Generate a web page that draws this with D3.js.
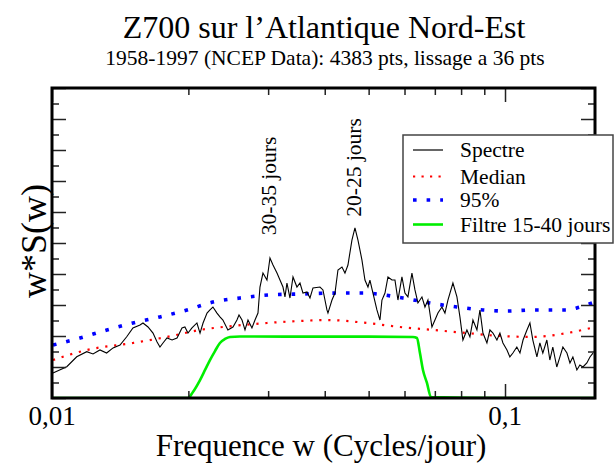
<!DOCTYPE html>
<html>
<head>
<meta charset="utf-8">
<script src="https://cdn.jsdelivr.net/npm/d3@7"></script>
<style>
  body { margin: 0; background: #fff; }
  text { font-family: "Liberation Serif", "Times New Roman", serif; fill: #000; }
</style>
</head>
<body>
<div id="chart"></div>
<script>
const WIDTH = 615;
const HEIGHT = 466;
const PLOT = { LEFT: 52, RIGHT: 595, TOP: 88, BOTTOM: 398 };

// spectre (frequence en cycles/jour -> w*S(w))
const spectreFreq = [0.01005, 0.01078, 0.01134, 0.01193, 0.01232, 0.01276, 0.01320, 0.01364, 0.01413, 0.01462,
  0.01509, 0.01564, 0.01588, 0.01629, 0.01671, 0.01706, 0.01731, 0.01758, 0.01794, 0.01841,
  0.01888, 0.01936, 0.01965, 0.01996, 0.02037, 0.02089, 0.02122, 0.02155, 0.02199, 0.02232,
  0.02266, 0.02313, 0.02348, 0.02384, 0.02445, 0.02509, 0.02560, 0.02587, 0.02627, 0.02667,
  0.02708, 0.02763, 0.02806, 0.02849, 0.02878, 0.02922, 0.02982, 0.03028, 0.03075, 0.03138,
  0.03186, 0.03235, 0.03268, 0.03301, 0.03352, 0.03404, 0.03473, 0.03527, 0.03581, 0.03655,
  0.03711, 0.03768, 0.03904, 0.03964, 0.04045, 0.04066, 0.04150, 0.04214, 0.04278, 0.04366,
  0.04433, 0.04501, 0.04593, 0.04664, 0.04736, 0.04833, 0.04907, 0.04983, 0.05033, 0.05111,
  0.05215, 0.05296, 0.05350, 0.05433, 0.05516, 0.05629, 0.05716, 0.05803, 0.05922, 0.06013,
  0.06105, 0.06231, 0.06327, 0.06424, 0.06556, 0.06657, 0.06759, 0.06898, 0.07004, 0.07111,
  0.07257, 0.07369, 0.07482, 0.07674, 0.07832, 0.07952, 0.08074, 0.08240, 0.08367, 0.08496,
  0.08670, 0.08803, 0.08939, 0.09122, 0.09262, 0.09405, 0.09597, 0.09745, 0.09895, 0.1010,
  0.1025, 0.1041, 0.1062, 0.1079, 0.1096, 0.1118, 0.1135, 0.1152, 0.1176, 0.1194,
  0.1212, 0.1237, 0.1256, 0.1275, 0.1301, 0.1322, 0.1342, 0.1370, 0.1391, 0.1412,
  0.1441, 0.1463, 0.1486, 0.1516, 0.1540, 0.1564];
const spectreVal = [1.61, 2.02, 2.66, 2.99, 2.84, 3.10, 2.90, 3.23, 3.42, 3.95,
  4.52, 4.71, 4.84, 4.58, 4.19, 3.61, 3.29, 3.55, 3.87, 3.74,
  3.87, 4.52, 4.58, 4.19, 4.52, 4.84, 4.19, 4.84, 5.48, 5.68,
  5.87, 5.48, 5.23, 5.03, 4.39, 4.58, 5.03, 5.35, 5.03, 4.39,
  5.03, 4.52, 5.03, 5.48, 7.16, 8.06, 7.61, 9.03, 8.58, 8.06,
  7.61, 7.16, 6.52, 7.42, 6.45, 7.81, 7.16, 7.42, 6.77, 6.84,
  6.45, 7.10, 7.16, 6.97, 5.68, 5.48, 6.32, 6.77, 8.26, 8.45,
  8.06, 8.58, 10.19, 10.97, 10.19, 8.90, 7.61, 7.16, 7.61, 6.77,
  5.68, 5.03, 6.32, 6.77, 7.81, 7.61, 7.61, 6.32, 7.81, 6.77,
  6.52, 8.06, 6.97, 6.13, 6.52, 5.87, 6.32, 4.58, 5.03, 5.48,
  5.87, 5.48, 6.32, 7.42, 6.52, 5.23, 3.74, 4.39, 3.94, 5.03,
  4.39, 5.68, 4.19, 3.55, 4.39, 4.19, 3.74, 4.19, 3.55, 3.10,
  2.65, 2.90, 3.29, 2.90, 3.74, 4.39, 4.84, 3.74, 2.65, 3.55,
  2.90, 3.74, 2.45, 3.29, 2.00, 2.65, 3.29, 2.90, 2.26, 2.65,
  1.81, 2.13, 2.00, 2.26, 2.65, 2.90];

// seuil median
const medianFreq = [0.01005, 0.01195, 0.01509, 0.01794, 0.02122, 0.02509, 0.02982, 0.03527, 0.04045,
  0.04957, 0.05862, 0.06933, 0.08240, 0.09745, 0.1152, 0.1370, 0.1579];
const medianVal = [2.45, 3.10, 3.55, 3.94, 4.39, 4.65, 4.84, 4.97, 5.03,
  4.84, 4.58, 4.39, 4.19, 4.00, 3.94, 4.19, 4.58];

// seuil 95%
const p95Freq = [0.01005, 0.01153, 0.01322, 0.01509, 0.01731, 0.01986, 0.02266, 0.02600, 0.03028, 0.03527,
  0.04257, 0.04858, 0.05952, 0.06828, 0.07832, 0.08939, 0.1010, 0.1152, 0.1370, 0.1463, 0.1579];
const p95Val = [3.42, 3.87, 4.39, 4.84, 5.23, 5.68, 6.19, 6.45, 6.65, 6.71,
  6.77, 6.77, 6.45, 6.13, 5.87, 5.68, 5.61, 5.68, 5.68, 5.87, 6.19];

// filtre 15-40 jours
const filtreFreq = [0.01, 0.01996, 0.02047, 0.02122, 0.02177, 0.02232, 0.02290, 0.02348, 0.02409, 0.02471,
  0.02600, 0.03500, 0.05000, 0.06263, 0.06391, 0.06490, 0.06590, 0.06725, 0.06863, 0.1000, 0.158];
const filtreVal = [0, 0, 0.39, 1.16, 1.81, 2.45, 3.03, 3.55, 3.81, 3.94,
  3.97, 3.96, 3.96, 3.94, 3.87, 2.90, 1.81, 0.97, 0.06, 0, 0];

const legendLabels = ["Spectre", "Median", "95%", "Filtre 15-40 jours"];
const annotTexts = ["30-35 jours", "20-25 jours"];
const annotFreq = [0.0312, 0.0481];
const annotVal = [10.5, 11.7];

const xMajorTicks = [0.01, 0.1];
const xMajorLabels = ["0,01", "0,1"];
const xMinorTicks = [0.02, 0.03, 0.04, 0.05, 0.06, 0.07, 0.08, 0.09];
const yMajorTicks = [0, 2, 4, 6, 8, 10, 12, 14, 16, 18, 20];
const yMinorTicks = [1, 3, 5, 7, 9, 11, 13, 15, 17, 19];

const svg = d3
  .select("#chart")
  .append("svg")
  .attr("width", WIDTH)
  .attr("height", HEIGHT);

const x = d3.scaleLog().domain([0.01, 0.158]).range([PLOT.LEFT, PLOT.RIGHT]);
const y = d3.scaleLinear().domain([0, 20]).range([PLOT.BOTTOM, PLOT.TOP]);

// titres
svg.append("text")
  .attr("x", 324).attr("y", 38)
  .attr("text-anchor", "middle")
  .attr("font-size", "32px")
  .text("Z700 sur l\u2019Atlantique Nord-Est");
svg.append("text")
  .attr("x", 325).attr("y", 65)
  .attr("text-anchor", "middle")
  .attr("font-size", "21.5px")
  .text("1958-1997 (NCEP Data): 4383 pts, lissage a 36 pts");

svg.append("clipPath").attr("id", "clip")
  .append("rect")
  .attr("x", PLOT.LEFT).attr("y", PLOT.TOP)
  .attr("width", PLOT.RIGHT - PLOT.LEFT)
  .attr("height", PLOT.BOTTOM - PLOT.TOP);

const plot = svg.append("g").attr("clip-path", "url(#clip)");

const toPoints = (fs, vs) => fs.map((f, i) => [f, vs[i]]);
const line = d3.line().x((d) => x(d[0])).y((d) => y(d[1]));
const smooth = d3.line().x((d) => x(d[0])).y((d) => y(d[1])).curve(d3.curveMonotoneX);

plot.append("path")
  .attr("d", smooth(toPoints(filtreFreq, filtreVal)))
  .style("fill", "none").style("stroke", "#00ee00").style("stroke-width", 2.6);

plot.append("path")
  .attr("d", smooth(toPoints(medianFreq, medianVal)))
  .style("fill", "none").style("stroke", "#ff0000").style("stroke-width", 2.2)
  .style("stroke-dasharray", "2.2,6.8");

plot.append("path")
  .attr("d", smooth(toPoints(p95Freq, p95Val)))
  .style("fill", "none").style("stroke", "#0000ff").style("stroke-width", 3.6)
  .style("stroke-dasharray", "3.6,10");

plot.append("path")
  .attr("d", line(toPoints(spectreFreq, spectreVal)))
  .style("fill", "none").style("stroke", "#000").style("stroke-width", 1.1);

// axes (ticks vers l'interieur)
function tickAxis(axis, translate, size, values) {
  svg.append("g")
    .attr("transform", translate)
    .call(axis.tickValues(values).tickSize(size).tickFormat(""))
    .call((g) => g.select(".domain").remove())
    .call((g) => g.selectAll("line").style("stroke", "#222").style("stroke-width", 1.5));
}
tickAxis(d3.axisBottom(x), `translate(0, ${PLOT.BOTTOM})`, -7, xMinorTicks);
tickAxis(d3.axisBottom(x), `translate(0, ${PLOT.BOTTOM})`, -14, xMajorTicks);
tickAxis(d3.axisTop(x), `translate(0, ${PLOT.TOP})`, -7, xMinorTicks);
tickAxis(d3.axisTop(x), `translate(0, ${PLOT.TOP})`, -14, xMajorTicks);
tickAxis(d3.axisLeft(y), `translate(${PLOT.LEFT}, 0)`, -7, yMinorTicks);
tickAxis(d3.axisLeft(y), `translate(${PLOT.LEFT}, 0)`, -14, yMajorTicks);
tickAxis(d3.axisRight(y), `translate(${PLOT.RIGHT}, 0)`, -7, yMinorTicks);
tickAxis(d3.axisRight(y), `translate(${PLOT.RIGHT}, 0)`, -14, yMajorTicks);

svg.append("rect")
  .attr("x", PLOT.LEFT).attr("y", PLOT.TOP)
  .attr("width", PLOT.RIGHT - PLOT.LEFT)
  .attr("height", PLOT.BOTTOM - PLOT.TOP)
  .style("fill", "none").style("stroke", "#000").style("stroke-width", 3);

svg.selectAll(".xlab")
  .data(xMajorTicks)
  .enter()
  .append("text")
  .attr("class", "xlab")
  .attr("x", (d) => x(d))
  .attr("y", 425)
  .attr("text-anchor", "middle")
  .attr("font-size", "27px")
  .text((d, i) => xMajorLabels[i]);

svg.append("text")
  .attr("x", 321).attr("y", 456)
  .attr("text-anchor", "middle")
  .attr("font-size", "31px")
  .text("Frequence w (Cycles/jour)");

svg.append("text")
  .attr("transform", "translate(46, 241) rotate(-90)")
  .attr("text-anchor", "middle")
  .attr("font-size", "36px")
  .text("w*S(w)");

// annotations des pics
svg.selectAll(".annot")
  .data(annotTexts)
  .enter()
  .append("text")
  .attr("class", "annot")
  .attr("transform", (d, i) => `translate(${x(annotFreq[i])}, ${y(annotVal[i])}) rotate(-90)`)
  .attr("font-size", "21.5px")
  .text((d) => d);

// legende
const legend = svg.append("g").attr("transform", "translate(403, 135)");
legend.append("rect")
  .attr("width", 210).attr("height", 108)
  .style("fill", "#fff").style("stroke", "#444").style("stroke-width", 1.5);

const legendStyles = [
  { stroke: "#000", width: 1.2, dash: null },
  { stroke: "#ff0000", width: 2.2, dash: "2.2,6.3" },
  { stroke: "#0000ff", width: 3.6, dash: "3.6,10" },
  { stroke: "#00ee00", width: 2.6, dash: null },
];
const legendY = [15, 41.5, 65, 89.5];

legendLabels.forEach((label, i) => {
  legend.append("line")
    .attr("x1", 10).attr("x2", 40)
    .attr("y1", legendY[i]).attr("y2", legendY[i])
    .style("stroke", legendStyles[i].stroke)
    .style("stroke-width", legendStyles[i].width)
    .style("stroke-dasharray", legendStyles[i].dash);
  legend.append("text")
    .attr("x", 57).attr("y", legendY[i] + 7)
    .attr("font-size", "21.5px")
    .text(label);
});
</script>
</body>
</html>
